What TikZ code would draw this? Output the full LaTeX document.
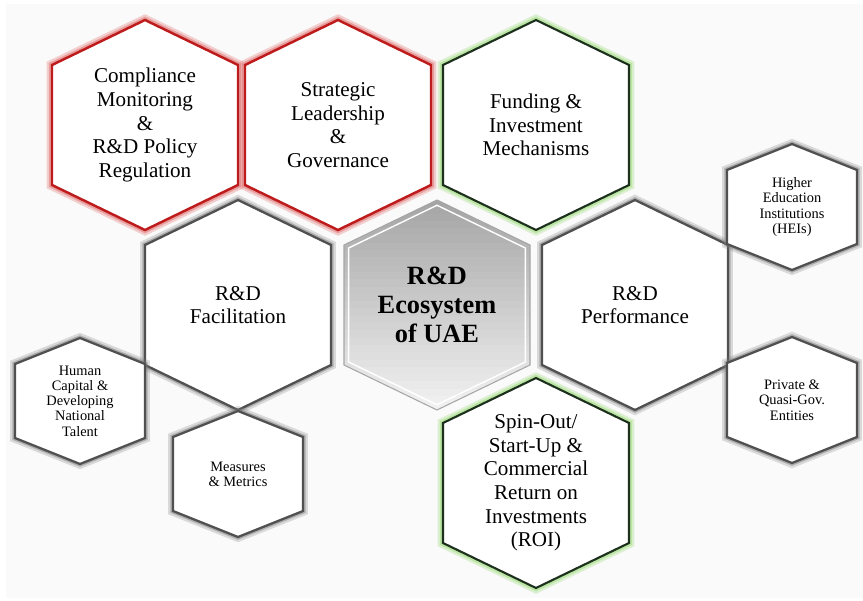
\documentclass[tikz,border=0pt]{standalone}
\usepackage{fontspec}
\setmainfont{Liberation Serif}
\definecolor{paper}{RGB}{250,250,250}
\definecolor{hexred}{RGB}{190,28,28}
\definecolor{glowred}{RGB}{225,110,110}
\definecolor{hexgreen}{RGB}{28,48,28}
\definecolor{glowgreen}{RGB}{165,222,135}
\definecolor{hexgray}{RGB}{80,80,80}
\definecolor{glowgray}{RGB}{120,120,120}
\definecolor{coretop}{RGB}{165,165,165}
\definecolor{corebottom}{RGB}{244,244,244}

\begin{document}
\begin{tikzpicture}[x=0.02cm, y=-0.02cm,
	bighex/.style={insert path={+(0,-105) -- +(93,-60) -- +(93,60) -- +(0,105) -- +(-93,60) -- +(-93,-60) -- cycle}},
	smallhex/.style={insert path={+(0,-63) -- +(65,-37) -- +(65,37) -- +(0,63) -- +(-65,37) -- +(-65,-37) -- cycle}},
	redhex/.style={fill=white, draw=hexred, line width=1.4pt,
		preaction={draw=glowred, line width=6pt, draw opacity=0.3},
		preaction={draw=glowred, line width=3.5pt, draw opacity=0.5}},
	greenhex/.style={fill=white, draw=hexgreen, line width=1.2pt,
		preaction={draw=glowgreen, line width=6pt, draw opacity=0.35},
		preaction={draw=glowgreen, line width=3.5pt, draw opacity=0.6}},
	grayhex/.style={fill=white, draw=hexgray, line width=1.3pt,
		preaction={draw=glowgray, line width=5.5pt, draw opacity=0.25},
		preaction={draw=glowgray, line width=3pt, draw opacity=0.45}},
	corehex/.style={draw=gray!70, line width=0.6pt},
	bigtext/.style={align=center, font=\fontsize{12}{13.4}\selectfont},
	smalltext/.style={align=center, font=\fontsize{8.2}{8.7}\selectfont},
	coretext/.style={align=center, font=\fontsize{15}{16.5}\selectfont\bfseries}]

	\useasboundingbox (0,0) rectangle (863,601);
	\fill[paper] (6,4) rectangle (863,598);

	% centres of the honeycomb
	\coordinate (comp) at (145,125);
	\coordinate (gov) at (338,125);
	\coordinate (fund) at (536,125);
	\coordinate (facil) at (238,305);
	\coordinate (core) at (437,305);
	\coordinate (perf) at (635,305);
	\coordinate (spin) at (536,483);
	\coordinate (talent) at (80,401);
	\coordinate (metric) at (238,474);
	\coordinate (hei) at (792,207);
	\coordinate (priv) at (792,400);

	% outer cells
	\draw[grayhex] (facil) [bighex];
	\draw[grayhex] (perf) [bighex];
	\draw[grayhex] (talent) [smallhex];
	\draw[grayhex] (metric) [smallhex];
	\draw[grayhex] (hei) [smallhex];
	\draw[grayhex] (priv) [smallhex];
	\draw[redhex] (comp) [bighex];
	\draw[redhex] (gov) [bighex];
	\draw[greenhex] (fund) [bighex];
	\draw[greenhex] (spin) [bighex];

	% centre cell, dark at the top and pale at the bottom
	\begin{scope}
		\clip (core) [bighex];
		\foreach \i [evaluate=\i as \p using 100*\i/29] in {0,...,29}
			\fill[corebottom!\p!coretop] (340,{199+7.3*\i}) rectangle (534,{207+7.3*\i});
	\end{scope}
	\draw[corehex] (core) [bighex];
	\draw[white, line width=0.8pt, shift={(core)}, scale=0.95] (0,0) [bighex];

	\node[bigtext] (comp-label) at (comp) {Compliance\\Monitoring\\\&\\R\&D Policy\\Regulation};
	\node[bigtext] (gov-label) at (gov) {Strategic\\Leadership\\\&\\Governance};
	\node[bigtext] (fund-label) at (fund) {Funding \&\\Investment\\Mechanisms};
	\node[bigtext] (facil-label) at (facil) {R\&D\\Facilitation};
	\node[coretext] (core-label) at (core) {R\&D\\Ecosystem\\of UAE};
	\node[bigtext] (perf-label) at (perf) {R\&D\\Performance};
	\node[bigtext] (spin-label) at (spin) {Spin-Out/\\Start-Up \&\\Commercial\\Return on\\Investments\\(ROI)};
	\node[smalltext] (talent-label) at (talent) {Human\\Capital \&\\Developing\\National\\Talent};
	\node[smalltext] (metric-label) at (metric) {Measures\\\& Metrics};
	\node[smalltext] (hei-label) at (hei) {Higher\\Education\\Institutions\\(HEIs)};
	\node[smalltext] (priv-label) at (priv) {Private \&\\Quasi-Gov.\\Entities};
\end{tikzpicture}
\end{document}
